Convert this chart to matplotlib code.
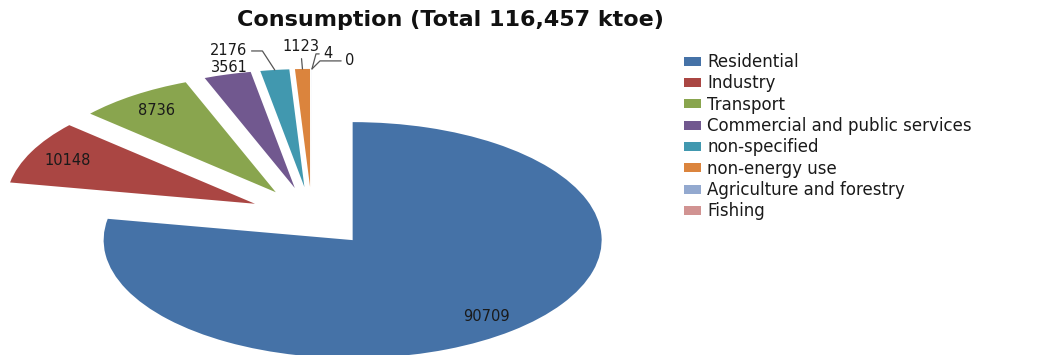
import matplotlib
matplotlib.use("Agg")
import matplotlib.pyplot as plt
import numpy as np

# final consumption by sector, ktoe
sectors = ["Residential", "Industry", "Transport", "Commercial and public services",
           "non-specified", "non-energy use", "Agriculture and forestry", "Fishing"]
consumption = [90709, 10148, 8736, 3561, 2176, 1123, 4, 0]
colors = ["#4572A7", "#AA4643", "#89A54E", "#71588F",
          "#4198AF", "#DB843D", "#93A9CF", "#D19392"]

total = sum(consumption)

W, H = 1057, 355
fig = plt.figure(figsize=(W / 100, H / 100), dpi=100)
ax = fig.add_axes([0, 0, 1, 1])


def fmt_value(pct):
    return f"{round(pct * total / 100):d}"


wedges, texts, autotexts = ax.pie(
    consumption,
    explode=[0.255] * len(consumption),
    colors=colors,
    startangle=90,
    counterclock=False,
    autopct=fmt_value,
    pctdistance=0.84,
    wedgeprops=dict(linewidth=0),
    textprops=dict(fontsize=10.5, color="#1a1a1a"),
)

# the pie is drawn as a wide ellipse: 250 px across per unit, 118 px up
cx, cy = 312, 217
ax.set_aspect("auto")
ax.set_xlim(-cx / 249, (W - cx) / 249)
ax.set_ylim(-(H - cy) / 118, cy / 118)
ax.axis("off")

# small slices get their labels outside, with leader lines
for t in autotexts[3:]:
    t.set_visible(False)


def outer_mid(w):
    th = np.deg2rad((w.theta1 + w.theta2) / 2)
    return (w.center[0] + w.r * np.cos(th), w.center[1] + w.r * np.sin(th))


px = 0.72  # points per pixel at 100 dpi
label_style = dict(fontsize=10.5, color="#1a1a1a", textcoords="offset points",
                   ha="center", va="center")
line = dict(arrowstyle="-", color="#555555", lw=0.9, shrinkA=1, shrinkB=0)

ax.annotate(str(consumption[3]), outer_mid(wedges[3]),
            xytext=(2 * px, 7 * px), **label_style)
ax.annotate(str(consumption[4]), outer_mid(wedges[4]),
            xytext=(-46 * px, 19 * px),
            arrowprops=dict(connectionstyle="angle,angleA=0,angleB=123,rad=0", **line),
            **label_style)
ax.annotate(str(consumption[5]), outer_mid(wedges[5]),
            xytext=(-2 * px, 22 * px),
            arrowprops=dict(connectionstyle="arc3", **line), **label_style)
ax.annotate(str(consumption[6]), outer_mid(wedges[6]),
            xytext=(16 * px, 15 * px),
            arrowprops=dict(connectionstyle="angle,angleA=180,angleB=75,rad=0", **line),
            **label_style)
ax.annotate(str(consumption[7]), outer_mid(wedges[7]),
            xytext=(38 * px, 8 * px),
            arrowprops=dict(connectionstyle="angle,angleA=180,angleB=45,rad=0", **line),
            **label_style)

fig.text(450 / W, 1 - 20 / H, f"Consumption (Total {total:,} ktoe)",
         ha="center", va="center", fontsize=16, fontweight="bold", color="#111111")

fig.legend(wedges, sectors, loc="upper left",
           bbox_to_anchor=(684 / W, 1 - 53 / H),
           frameon=False, fontsize=12, handlelength=1.0, handleheight=0.45,
           handletextpad=0.4, labelspacing=0.2, borderpad=0, borderaxespad=0,
           labelcolor="#1a1a1a")

fig.savefig("out.png", dpi=100)
